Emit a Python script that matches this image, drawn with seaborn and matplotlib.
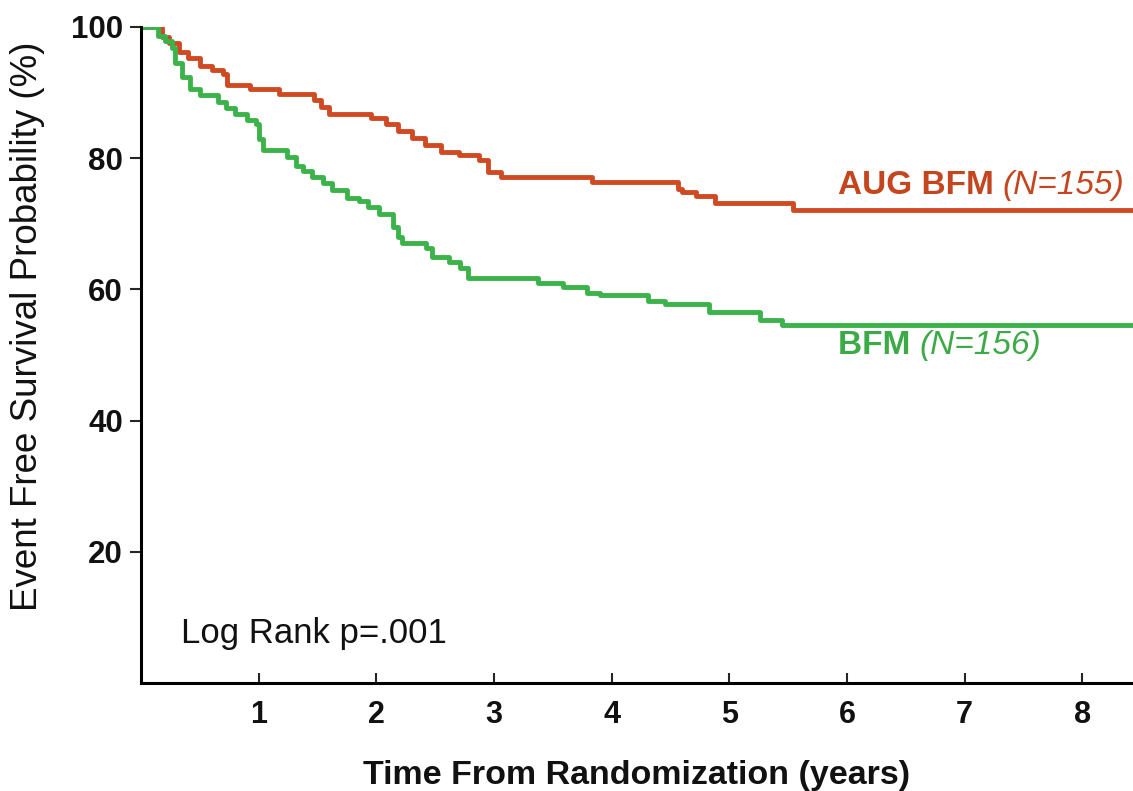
import numpy as np
import pandas as pd
import matplotlib
matplotlib.use("Agg")
import matplotlib.pyplot as plt
import seaborn as sns

# ---- data ----
aug_time = [0, 0.18, 0.24, 0.32, 0.40, 0.50, 0.60, 0.70, 0.73, 0.93, 1.17, 1.47, 1.53,
            1.60, 1.95, 2.08, 2.18, 2.30, 2.41, 2.55, 2.70, 2.87, 2.95, 3.06, 3.83,
            4.56, 4.60, 4.72, 4.88, 5.54, 8.45]
aug_surv = [100, 98.5, 97.5, 96.2, 95.2, 94.0, 93.4, 92.8, 91.1, 90.5, 89.8, 88.9, 87.8,
            86.8, 86.1, 85.2, 84.2, 83.1, 82.0, 81.0, 80.5, 79.7, 77.9, 77.1, 76.3,
            75.3, 74.8, 74.3, 73.1, 72.1, 72.1]

bfm_time = [0, 0.14, 0.20, 0.26, 0.29, 0.35, 0.42, 0.50, 0.65, 0.72, 0.80, 0.90, 0.98,
            1.00, 1.04, 1.24, 1.32, 1.38, 1.45, 1.55, 1.62, 1.75, 1.85, 1.93, 2.02,
            2.14, 2.18, 2.22, 2.42, 2.47, 2.62, 2.71, 2.78, 3.37, 3.59, 3.79, 3.90,
            4.31, 4.45, 4.83, 5.26, 5.45, 8.45]
bfm_surv = [100, 98.7, 97.8, 96.8, 94.5, 92.4, 90.5, 89.6, 88.5, 87.6, 86.8, 85.8, 85.2,
            83.0, 81.2, 80.2, 78.8, 78.0, 77.1, 76.2, 75.1, 74.0, 73.5, 72.6, 71.5,
            69.5, 68.0, 67.0, 66.3, 65.0, 64.1, 63.2, 61.7, 60.9, 60.3, 59.4, 59.1,
            58.3, 57.7, 56.6, 55.3, 54.5, 54.5]

arms = ["AUG BFM", "BFM"]
n_labels = ["(N=155)", "(N=156)"]
x_ticks = [1, 2, 3, 4, 5, 6, 7, 8]
y_ticks = [20, 40, 60, 80, 100]

df = pd.concat([
    pd.DataFrame({"time": aug_time, "surv": aug_surv, "arm": arms[0]}),
    pd.DataFrame({"time": bfm_time, "surv": bfm_surv, "arm": arms[1]}),
], ignore_index=True)

line_colors = {"AUG BFM": "#CF4A22", "BFM": "#3BB34A"}
text_colors = {"AUG BFM": "#C4461F", "BFM": "#3DAA48"}

sns.set_style("ticks")
plt.rcParams["font.family"] = ["Liberation Sans", "DejaVu Sans"]

fig = plt.figure(figsize=(11.33, 7.91), dpi=100)
ax = fig.add_axes([0.1245, 0.1365, 0.8755, 0.8294])

sns.lineplot(data=df, x="time", y="surv", hue="arm", palette=line_colors,
             drawstyle="steps-post", estimator=None, linewidth=3.5, ax=ax,
             legend=False)

ax.set_xlim(0, 8.43)
ax.set_ylim(0, 100)
ax.set_xticks(x_ticks)
ax.set_yticks(y_ticks)
ax.set_xticklabels([str(v) for v in x_ticks], fontsize=22, fontweight="bold")
ax.set_yticklabels([str(v) for v in y_ticks], fontsize=22.5, fontweight="bold")
ax.tick_params(axis="x", direction="in", length=7, width=1.5, pad=12,
               labelcolor="#111111")
ax.tick_params(axis="y", direction="out", length=8, width=1.5, pad=5,
               labelcolor="#111111")
for s in ["top", "right"]:
    ax.spines[s].set_visible(False)
for s in ["left", "bottom"]:
    ax.spines[s].set_linewidth(2.2)
    ax.spines[s].set_color("black")

ax.set_xlabel("Time From Randomization (years)", fontsize=24.5, fontweight="bold",
              labelpad=22, color="#111111")
ax.set_ylabel("Event Free Survival Probability (%)", fontsize=26.5,
              color="#111111")
ax.yaxis.set_label_coords(-0.097, 0.544)

# curve labels
for arm, nlab, (x, y) in zip(arms, n_labels, [(5.92, 75.8), (5.92, 51.4)]):
    t = ax.text(x, y, arm + " ", color=text_colors[arm], fontsize=24,
                fontweight="bold", va="center", ha="left")
    ax.annotate(nlab, xy=(1, 0.5), xycoords=t, va="center", ha="left",
                color=text_colors[arm], fontsize=24, fontstyle="italic")

ax.text(0.34, 7.6, "Log Rank p=.001", fontsize=25, va="center", ha="left",
        color="#111111")

fig.savefig("out.png", dpi=100)
